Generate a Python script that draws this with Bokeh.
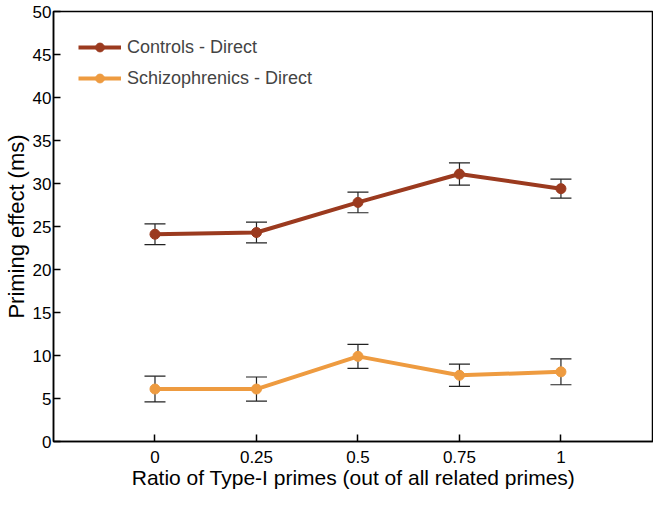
from bokeh.plotting import figure
from bokeh.models import ColumnDataSource, Whisker, TeeHead, FixedTicker, Range1d, Legend, LegendItem
from bokeh.embed import file_html
from bokeh.resources import INLINE

ratios = [0, 0.25, 0.5, 0.75, 1]
tick_labels = ["0", "0.25", "0.5", "0.75", "1"]
controls = [24.1, 24.3, 27.8, 31.1, 29.4]
controls_err = [1.2, 1.2, 1.2, 1.3, 1.1]
schizo = [6.1, 6.1, 9.9, 7.7, 8.1]
schizo_err = [1.5, 1.4, 1.4, 1.3, 1.5]

c_col = "#9B3A1F"
s_col = "#EE9B40"
FONT = "Liberation Sans"

p = figure(width=650, height=495, frame_width=600, frame_height=430,
           output_backend="svg", toolbar_location=None,
           x_range=Range1d(-0.25, 1.228), y_range=Range1d(0, 50),
           min_border_left=44, min_border_top=11, min_border_bottom=54, min_border_right=0)

p.xgrid.visible = False
p.ygrid.visible = False
p.outline_line_color = "black"
p.outline_line_width = 1.5
p.outline_line_alpha = 1

for ax in (p.xaxis[0], p.yaxis[0]):
    ax.axis_line_width = 1.5
    ax.axis_line_color = "black"
    ax.major_tick_in = 7
    ax.major_tick_out = 0
    ax.major_tick_line_width = 1.5
    ax.minor_tick_line_color = None
    ax.major_label_text_font = FONT
    ax.major_label_text_font_size = "17px"
    ax.major_label_text_color = "black"
    ax.axis_label_text_font = FONT
    ax.axis_label_text_font_style = "normal"
    ax.axis_label_text_color = "black"

p.xaxis.ticker = FixedTicker(ticks=ratios)
p.xaxis.major_label_overrides = {r: l for r, l in zip(ratios, tick_labels)}
p.xaxis.major_label_standoff = 9
p.xaxis.axis_label = "Ratio of Type-I primes (out of all related primes)"
p.xaxis.axis_label_text_font_size = "21px"
p.xaxis.axis_label_standoff = 0
p.yaxis.ticker = FixedTicker(ticks=list(range(0, 51, 5)))
p.yaxis.major_label_standoff = 2
p.yaxis.axis_label = "Priming effect (ms)"
p.yaxis.axis_label_text_font_size = "22px"
p.yaxis.axis_label_standoff = 1

items = []
for vals, errs, col, name in [(controls, controls_err, c_col, "Controls - Direct"),
                              (schizo, schizo_err, s_col, "Schizophrenics - Direct")]:
    src = ColumnDataSource(dict(x=ratios, y=vals,
                                lo=[v - e for v, e in zip(vals, errs)],
                                hi=[v + e for v, e in zip(vals, errs)]))
    ln = p.line("x", "y", source=src, line_color=col, line_width=4)
    w = Whisker(base="x", lower="lo", upper="hi", source=src,
                line_color="#222222", line_width=1.2,
                upper_head=TeeHead(size=21, line_color="#222222", line_width=1.2),
                lower_head=TeeHead(size=21, line_color="#222222", line_width=1.2))
    p.add_layout(w)
    sc = p.scatter("x", "y", source=src, size=10, fill_color=col, line_color=col)
    items.append(LegendItem(label=name, renderers=[ln, sc]))

legend = Legend(items=items, location="top_left", border_line_color=None,
                background_fill_alpha=0, label_text_font=FONT,
                label_text_font_size="18px", glyph_width=43, glyph_height=22,
                label_height=22, spacing=9, margin=25, padding=5, label_standoff=6)
p.add_layout(legend)

open("out.html", "w").write(file_html(p, INLINE))
